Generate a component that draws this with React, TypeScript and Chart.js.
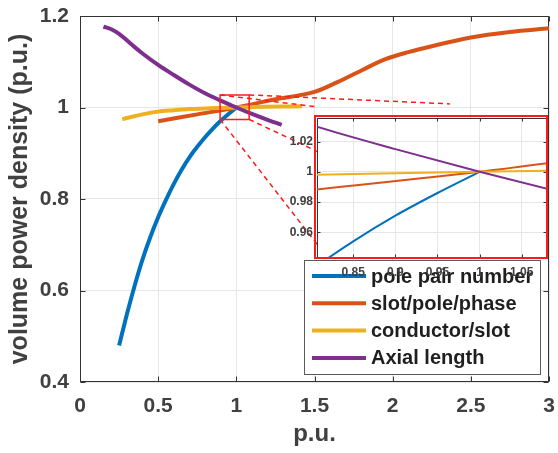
import React, { useEffect, useRef } from "react";
import { Chart, registerables } from "chart.js";

Chart.register(...registerables);

// ---------------- data ----------------
const seriesLabels = ["pole pair number", "slot/pole/phase", "conductor/slot", "Axial length"];
const seriesColors = ["#0072BD", "#D95319", "#EDB120", "#7E2F8E"];

const poleX = [0.25, 0.3, 0.35, 0.4, 0.45, 0.5, 0.55, 0.6, 0.65, 0.7, 0.75, 0.8, 0.85, 0.9, 0.95, 1.0];
const poleY = [0.48, 0.548, 0.611, 0.668, 0.717, 0.76, 0.798, 0.833, 0.864, 0.891, 0.914, 0.935, 0.954, 0.971, 0.986, 1.0];

const slotX = [0.5, 0.75, 1.0, 1.25, 1.5, 1.65, 1.8, 1.95, 2.1, 2.25, 2.5, 2.75, 3.0];
const slotY = [0.97, 0.985, 1.0, 1.018, 1.034, 1.056, 1.081, 1.105, 1.121, 1.134, 1.153, 1.165, 1.173];

const condX = [0.27, 0.3, 0.4, 0.5, 0.6, 0.7, 0.8, 0.9, 1.0, 1.1, 1.2, 1.3, 1.42];
const condY = [0.974, 0.977, 0.985, 0.991, 0.994, 0.9965, 0.998, 0.999, 1.0, 1.0008, 1.0015, 1.002, 1.0025];

const axialX = [0.15, 0.2, 0.25, 0.3, 0.35, 0.4, 0.5, 0.6, 0.7, 0.8, 0.9, 1.0, 1.1, 1.2, 1.29];
const axialY = [1.177, 1.171, 1.161, 1.147, 1.132, 1.118, 1.093, 1.071, 1.05, 1.031, 1.015, 1.0, 0.986, 0.973, 0.962];

// main axes
const mainXTicks = [0, 0.5, 1, 1.5, 2, 2.5, 3];
const mainYTicks = [0.4, 0.6, 0.8, 1, 1.2];
const mainXRange = [0, 3];
const mainYRange = [0.4, 1.2];

// inset axes
const insetXTicks = [0.85, 0.9, 0.95, 1, 1.05];
const insetYTicks = [0.96, 0.98, 1, 1.02];
const insetXRange = [0.807, 1.08];
const insetYRange = [0.943, 1.0356];

// zoom rectangle (data coords) and connector lines (start corner -> end point)
const zoomBoxX = [0.896, 1.082];
const zoomBoxY = [0.974, 1.0275];
const connectorStartX = [0.896, 1.082, 1.082, 0.896];
const connectorStartY = [1.0275, 1.0275, 0.974, 0.974];
const connectorEndX = [1.516, 2.366, 1.523, 1.529];
const connectorEndY = [1.0013, 1.0079, 0.903, 0.6955];

const allX = [poleX, slotX, condX, axialX];
const allY = [poleY, slotY, condY, axialY];

const FONT = "'Liberation Sans', Arial, Helvetica, sans-serif";
const TEXT = "#404040";
const GRID = "#e6e6e6";
const AXIS = "#333333";

const fmt = (v: number) => `${+Number(v).toFixed(3)}`;

function seriesDatasets(width: number) {
  return seriesLabels.map((label, i) => ({
    label,
    data: allX[i].map((x, j) => ({ x, y: allY[i][j] })),
    borderColor: seriesColors[i],
    backgroundColor: seriesColors[i],
    borderWidth: width,
    pointRadius: 0,
    fill: false,
    cubicInterpolationMode: "monotone" as const,
    order: 4 - i,
  }));
}

function zeroPad(s: any) {
  s.paddingTop = 0;
  s.paddingBottom = 0;
  s.paddingLeft = 0;
  s.paddingRight = 0;
}

const framePlugin = {
  id: "frame",
  beforeDraw(chart: any, _a: any, opts: any) {
    if (!opts.background) return;
    const { ctx, chartArea: a } = chart;
    ctx.save();
    ctx.fillStyle = opts.background;
    ctx.fillRect(a.left, a.top, a.right - a.left, a.bottom - a.top);
    ctx.restore();
  },
  beforeDatasetsDraw(chart: any, _a: any, opts: any) {
    const { ctx, chartArea: a, scales } = chart;
    const L = Math.round(a.left) + 0.5;
    const R = Math.round(a.right) - 0.5;
    const T = Math.round(a.top) + 0.5;
    const B = Math.round(a.bottom) - 0.5;
    ctx.save();
    ctx.strokeStyle = opts.color || AXIS;
    ctx.lineWidth = 1;
    ctx.strokeRect(L, T, R - L, B - T);
    const tl = opts.tickLen || 5;
    ctx.beginPath();
    scales.x.ticks.forEach((t: any) => {
      const px = Math.round(scales.x.getPixelForValue(t.value)) + 0.5;
      ctx.moveTo(px, B);
      ctx.lineTo(px, B - tl);
      ctx.moveTo(px, T);
      ctx.lineTo(px, T + tl);
    });
    scales.y.ticks.forEach((t: any) => {
      const py = Math.round(scales.y.getPixelForValue(t.value)) + 0.5;
      ctx.moveTo(L, py);
      ctx.lineTo(L + tl, py);
      ctx.moveTo(R, py);
      ctx.lineTo(R - tl, py);
    });
    ctx.stroke();
    ctx.restore();
  },
  afterDraw(chart: any, _a: any, opts: any) {
    if (!opts.redBorder) return;
    const { ctx, chartArea: a } = chart;
    ctx.save();
    ctx.strokeStyle = "#ff1a1a";
    ctx.lineWidth = 2;
    const x0 = Math.round(a.left) - 2;
    const y0 = Math.round(a.top) - 2;
    const x1 = Math.round(a.right);
    const y1 = Math.round(a.bottom);
    ctx.strokeRect(x0, y0, x1 - x0, y1 - y0);
    ctx.restore();
  },
};

const legendPlugin = {
  id: "boxLegend",
  afterDraw(chart: any, _a: any, opts: any) {
    if (!opts.show) return;
    const { ctx } = chart;
    const items = chart.data.datasets.filter((d: any) => seriesLabels.includes(d.label));
    items.sort((p: any, q: any) => seriesLabels.indexOf(p.label) - seriesLabels.indexOf(q.label));
    ctx.save();
    ctx.fillStyle = "#ffffff";
    ctx.fillRect(opts.left, opts.top, opts.width, opts.height);
    ctx.strokeStyle = "#5a5a5a";
    ctx.lineWidth = 1;
    ctx.strokeRect(opts.left + 0.5, opts.top + 0.5, opts.width, opts.height);
    ctx.font = `bold 20px ${FONT}`;
    ctx.textBaseline = "middle";
    ctx.textAlign = "left";
    items.forEach((it: any, i: number) => {
      const y = opts.firstRow + i * opts.rowGap;
      ctx.strokeStyle = it.borderColor;
      ctx.lineWidth = 4;
      ctx.beginPath();
      ctx.moveTo(opts.lineStart, y);
      ctx.lineTo(opts.lineEnd, y);
      ctx.stroke();
      ctx.fillStyle = "#1f1f1f";
      ctx.fillText(it.label, opts.textX, y + 1);
    });
    ctx.restore();
  },
};

export default function App() {
  const mainRef = useRef<HTMLCanvasElement | null>(null);
  const insetRef = useRef<HTMLCanvasElement | null>(null);

  useEffect(() => {
    if (!mainRef.current || !insetRef.current) return;

    const redLine = {
      borderColor: "#ff1a1a",
      borderWidth: 1.5,
      pointRadius: 0,
      fill: false,
      tension: 0,
      order: 0,
    };

    const connectors = connectorStartX.map((sx, i) => ({
      ...redLine,
      label: `_conn${i}`,
      borderDash: [5, 4],
      data: [
        { x: sx, y: connectorStartY[i] },
        { x: connectorEndX[i], y: connectorEndY[i] },
      ],
    }));

    const zoomBox = {
      ...redLine,
      label: "_zoombox",
      data: [
        { x: zoomBoxX[0], y: zoomBoxY[0] },
        { x: zoomBoxX[1], y: zoomBoxY[0] },
        { x: zoomBoxX[1], y: zoomBoxY[1] },
        { x: zoomBoxX[0], y: zoomBoxY[1] },
        { x: zoomBoxX[0], y: zoomBoxY[0] },
      ],
    };

    const main = new Chart(mainRef.current, {
      type: "line",
      data: { datasets: [...seriesDatasets(4), zoomBox, ...connectors] as any },
      plugins: [framePlugin, legendPlugin],
      options: {
        responsive: false,
        animation: false,
        events: [],
        layout: { padding: { left: 0, right: 9, top: 16, bottom: 0 } },
        plugins: {
          legend: { display: false },
          tooltip: { enabled: false },
          frame: { tickLen: 5, color: AXIS },
          boxLegend: {
            show: true,
            left: 304,
            top: 260,
            width: 236,
            height: 114,
            firstRow: 276,
            rowGap: 27.3,
            lineStart: 312,
            lineEnd: 366,
            textX: 371,
          },
        } as any,
        scales: {
          x: {
            type: "linear",
            min: mainXRange[0],
            max: mainXRange[1],
            afterBuildTicks: (s: any) => {
              s.ticks = mainXTicks.map((value) => ({ value }));
            },
            afterFit: (s: any) => {
              s.height = 71;
              zeroPad(s);
            },
            grid: { color: GRID, drawTicks: false },
            border: { display: false },
            ticks: {
              padding: 12,
              color: TEXT,
              font: { family: FONT, size: 21, weight: "bold" },
              callback: (v: any) => fmt(v),
              maxRotation: 0,
            },
            title: {
              display: true,
              text: "p.u.",
              color: TEXT,
              font: { family: FONT, size: 24, weight: "bold" },
              padding: { top: 0, bottom: 4 },
            },
          },
          y: {
            type: "linear",
            min: mainYRange[0],
            max: mainYRange[1],
            afterBuildTicks: (s: any) => {
              s.ticks = mainYTicks.map((value) => ({ value }));
            },
            afterFit: (s: any) => {
              s.width = 80;
              zeroPad(s);
            },
            grid: { color: GRID, drawTicks: false },
            border: { display: false },
            ticks: {
              padding: 11,
              color: TEXT,
              font: { family: FONT, size: 21, weight: "bold" },
              callback: (v: any) => fmt(v),
            },
            title: {
              display: true,
              text: "volume power density (p.u.)",
              color: TEXT,
              font: { family: FONT, size: 25, weight: "bold" },
              padding: { top: 5, bottom: 0 },
            },
          },
        },
      } as any,
    });

    const inset = new Chart(insetRef.current, {
      type: "line",
      data: { datasets: seriesDatasets(2) as any },
      plugins: [framePlugin],
      options: {
        responsive: false,
        animation: false,
        events: [],
        layout: { padding: { left: 0, right: 11, top: 6, bottom: 0 } },
        plugins: {
          legend: { display: false },
          tooltip: { enabled: false },
          frame: { tickLen: 3, color: AXIS, background: "#ffffff", redBorder: true },
        } as any,
        scales: {
          x: {
            type: "linear",
            min: insetXRange[0],
            max: insetXRange[1],
            afterBuildTicks: (s: any) => {
              s.ticks = insetXTicks.map((value) => ({ value }));
            },
            afterFit: (s: any) => {
              s.height = 24;
              zeroPad(s);
            },
            grid: { color: GRID, drawTicks: false },
            border: { display: false },
            ticks: {
              padding: 7,
              color: TEXT,
              font: { family: FONT, size: 12, weight: "bold" },
              callback: (v: any) => fmt(v),
              maxRotation: 0,
            },
          },
          y: {
            type: "linear",
            min: insetYRange[0],
            max: insetYRange[1],
            afterBuildTicks: (s: any) => {
              s.ticks = insetYTicks.map((value) => ({ value }));
            },
            afterFit: (s: any) => {
              s.width = 35;
              zeroPad(s);
            },
            grid: { color: GRID, drawTicks: false },
            border: { display: false },
            ticks: {
              padding: 4,
              color: TEXT,
              font: { family: FONT, size: 12, weight: "bold" },
              callback: (v: any) => fmt(v),
            },
          },
        },
      } as any,
    });

    return () => {
      main.destroy();
      inset.destroy();
    };
  }, []);

  return (
    <div
      style={{
        position: "fixed",
        left: 0,
        top: 0,
        width: 558,
        height: 453,
        background: "#ffffff",
        overflow: "hidden",
      }}
    >
      <canvas
        ref={mainRef}
        width={558}
        height={453}
        style={{ position: "absolute", left: 0, top: 0, width: 558, height: 453 }}
      />
      <canvas
        ref={insetRef}
        width={276}
        height={170}
        style={{ position: "absolute", left: 282, top: 112, width: 276, height: 170 }}
      />
    </div>
  );
}
